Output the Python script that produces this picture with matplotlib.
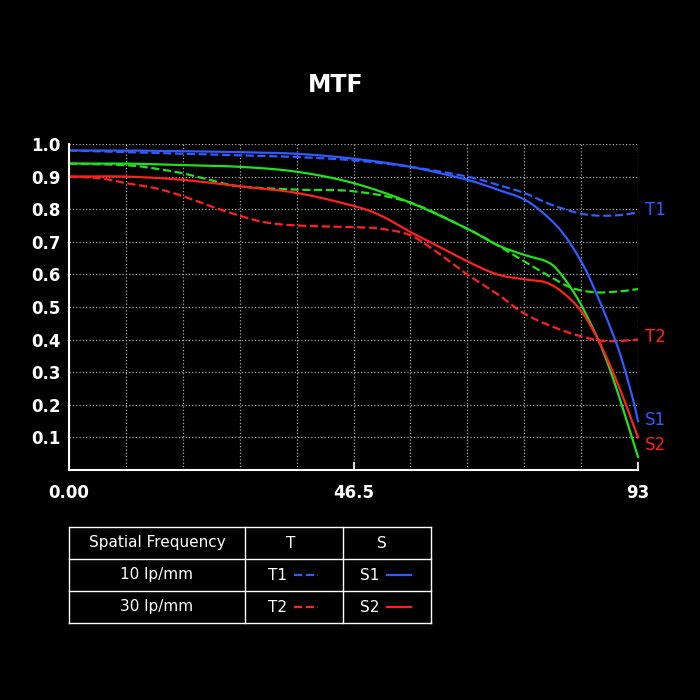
import numpy as np
import matplotlib
matplotlib.use("Agg")
import matplotlib.pyplot as plt

# MTF curves (x in lp/mm scale 0..93)
x_t1 = [0, 9.3, 18.6, 27.9, 37.2, 46.5, 55.8, 65.1, 70, 74.4, 78, 81, 84, 87, 90, 93]
t1 = [0.98, 0.975, 0.97, 0.965, 0.96, 0.95, 0.93, 0.90, 0.875, 0.85, 0.82, 0.80, 0.785, 0.78, 0.782, 0.79]
x_s1 = [0, 9.3, 18.6, 27.9, 37.2, 46.5, 55.8, 65.1, 70, 74.4, 78, 81, 84, 86, 88, 90, 92, 93]
s1 = [0.98, 0.98, 0.978, 0.975, 0.97, 0.955, 0.93, 0.89, 0.86, 0.83, 0.78, 0.72, 0.63, 0.55, 0.46, 0.36, 0.23, 0.15]
x_t3 = [0, 9.3, 14, 18.6, 23, 27.9, 37.2, 46.5, 55.8, 65.1, 70, 74.4, 78, 82, 86, 90, 93]
t3 = [0.94, 0.935, 0.925, 0.91, 0.89, 0.87, 0.86, 0.855, 0.82, 0.74, 0.69, 0.64, 0.60, 0.56, 0.545, 0.548, 0.555]
x_s3 = [0, 9.3, 18.6, 27.9, 37.2, 46.5, 55.8, 65.1, 70, 74.4, 78, 80, 83, 86, 88, 90, 92, 93]
s3 = [0.94, 0.94, 0.935, 0.93, 0.915, 0.88, 0.82, 0.74, 0.69, 0.66, 0.64, 0.61, 0.53, 0.42, 0.33, 0.22, 0.10, 0.04]
x_t2 = [0, 5, 9.3, 14, 18.6, 23, 27.9, 32, 37.2, 46.5, 51, 55.8, 60, 65.1, 70, 74.4, 79, 83.7, 88, 93]
t2 = [0.90, 0.895, 0.88, 0.865, 0.84, 0.81, 0.78, 0.76, 0.75, 0.745, 0.74, 0.72, 0.67, 0.60, 0.54, 0.48, 0.44, 0.41, 0.395, 0.40]
x_s2 = [0, 9.3, 18.6, 27.9, 37.2, 46.5, 51, 55.8, 60, 65.1, 70, 74.4, 78, 81, 84, 87, 90, 93]
s2 = [0.90, 0.90, 0.89, 0.87, 0.85, 0.81, 0.78, 0.73, 0.69, 0.64, 0.60, 0.585, 0.575, 0.54, 0.48, 0.38, 0.25, 0.10]

BLUE, GREEN, RED = "#2f5bff", "#22e01b", "#ff2020"


def smooth(xs, ys, n=400):
    # Catmull-Rom through the read points
    xs, ys = np.asarray(xs, float), np.asarray(ys, float)
    px = np.concatenate([[2 * xs[0] - xs[1]], xs, [2 * xs[-1] - xs[-2]]])
    py = np.concatenate([[2 * ys[0] - ys[1]], ys, [2 * ys[-1] - ys[-2]]])
    ox, oy = [], []
    for i in range(1, len(px) - 2):
        t = np.linspace(0, 1, 30, endpoint=False)
        for p, o in ((px, ox), (py, oy)):
            p0, p1, p2, p3 = p[i - 1], p[i], p[i + 1], p[i + 2]
            o.extend(0.5 * (2 * p1 + (-p0 + p2) * t + (2 * p0 - 5 * p1 + 4 * p2 - p3) * t ** 2
                            + (-p0 + 3 * p1 - 3 * p2 + p3) * t ** 3))
    ox.append(xs[-1]); oy.append(ys[-1])
    return ox, oy


fig = plt.figure(figsize=(7, 7), dpi=100, facecolor="black")
ax = fig.add_axes([69 / 700, 1 - 470 / 700, 569 / 700, 326 / 700], facecolor="black")
for xs, ys, c, ls in [(x_t3, t3, GREEN, "--"), (x_s3, s3, GREEN, "-"),
                      (x_t2, t2, RED, "--"), (x_s2, s2, RED, "-"),
                      (x_t1, t1, BLUE, "--"), (x_s1, s1, BLUE, "-")]:
    sx, sy = smooth(xs, ys)
    ax.plot(sx, sy, color=c, ls=ls, lw=1.6, clip_on=False)

ax.set_xlim(0, 93)
ax.set_ylim(0, 1.0)
ax.set_xticks(np.linspace(0, 93, 11), minor=True)
ax.set_xticks([0, 46.5, 93], ["0.00", "46.5", "93"])
ax.set_yticks(np.arange(0.1, 1.01, 0.1), [f"{v:.1f}" for v in np.arange(0.1, 1.01, 0.1)])
ax.grid(True, which="both", color="#aaaaaa", ls=":", lw=0.9)
for s in ("top", "right"):
    ax.spines[s].set_visible(False)
for s in ("left", "bottom"):
    ax.spines[s].set_color("white")
    ax.spines[s].set_linewidth(1.5)
ax.tick_params(colors="white", labelsize=12, length=0, pad=6, which="both")
ax.tick_params(axis="x", which="major", length=6, direction="in", width=1.2, pad=10)
for lab in ax.get_xticklabels() + ax.get_yticklabels():
    lab.set_fontweight("bold")

for txt, y, c in [("T1", 210, BLUE), ("T2", 337, RED), ("S1", 420, BLUE), ("S2", 445, RED)]:
    fig.text(645 / 700, 1 - y / 700, txt, color=c, fontsize=12, va="center")

fig.text(0.48, 1 - 85 / 700, "MTF", color="white", fontsize=17, fontweight="bold",
         ha="center", va="center")

# legend table
tb = fig.add_axes([0, 0, 1, 1], facecolor="none")
tb.set_xlim(0, 700); tb.set_ylim(700, 0); tb.axis("off")
cols = [69, 245, 343, 431]
rows = [527, 559, 591, 623]
for y in rows:
    tb.plot([cols[0], cols[-1]], [y, y], color="white", lw=1)
for x in cols:
    tb.plot([x, x], [rows[0], rows[-1]], color="white", lw=1)
tb.text(157, 543, "Spatial Frequency", color="white", fontsize=11, ha="center", va="center")
tb.text(291, 543, "T", color="white", fontsize=11, ha="center", va="center")
tb.text(382, 543, "S", color="white", fontsize=11, ha="center", va="center")
for ry, lab, tl, sl, c in [(575, "10 lp/mm", "T1", "S1", BLUE), (607, "30 lp/mm", "T2", "S2", RED)]:
    tb.text(157, ry, lab, color="white", fontsize=11, ha="center", va="center")
    tb.text(268, ry, tl, color="white", fontsize=11, ha="left", va="center")
    tb.plot([294, 318], [ry, ry], color=c, ls="--", lw=1.6)
    tb.text(360, ry, sl, color="white", fontsize=11, ha="left", va="center")
    tb.plot([387, 411], [ry, ry], color=c, lw=1.6)

fig.savefig("out.png", dpi=100, facecolor="black")
